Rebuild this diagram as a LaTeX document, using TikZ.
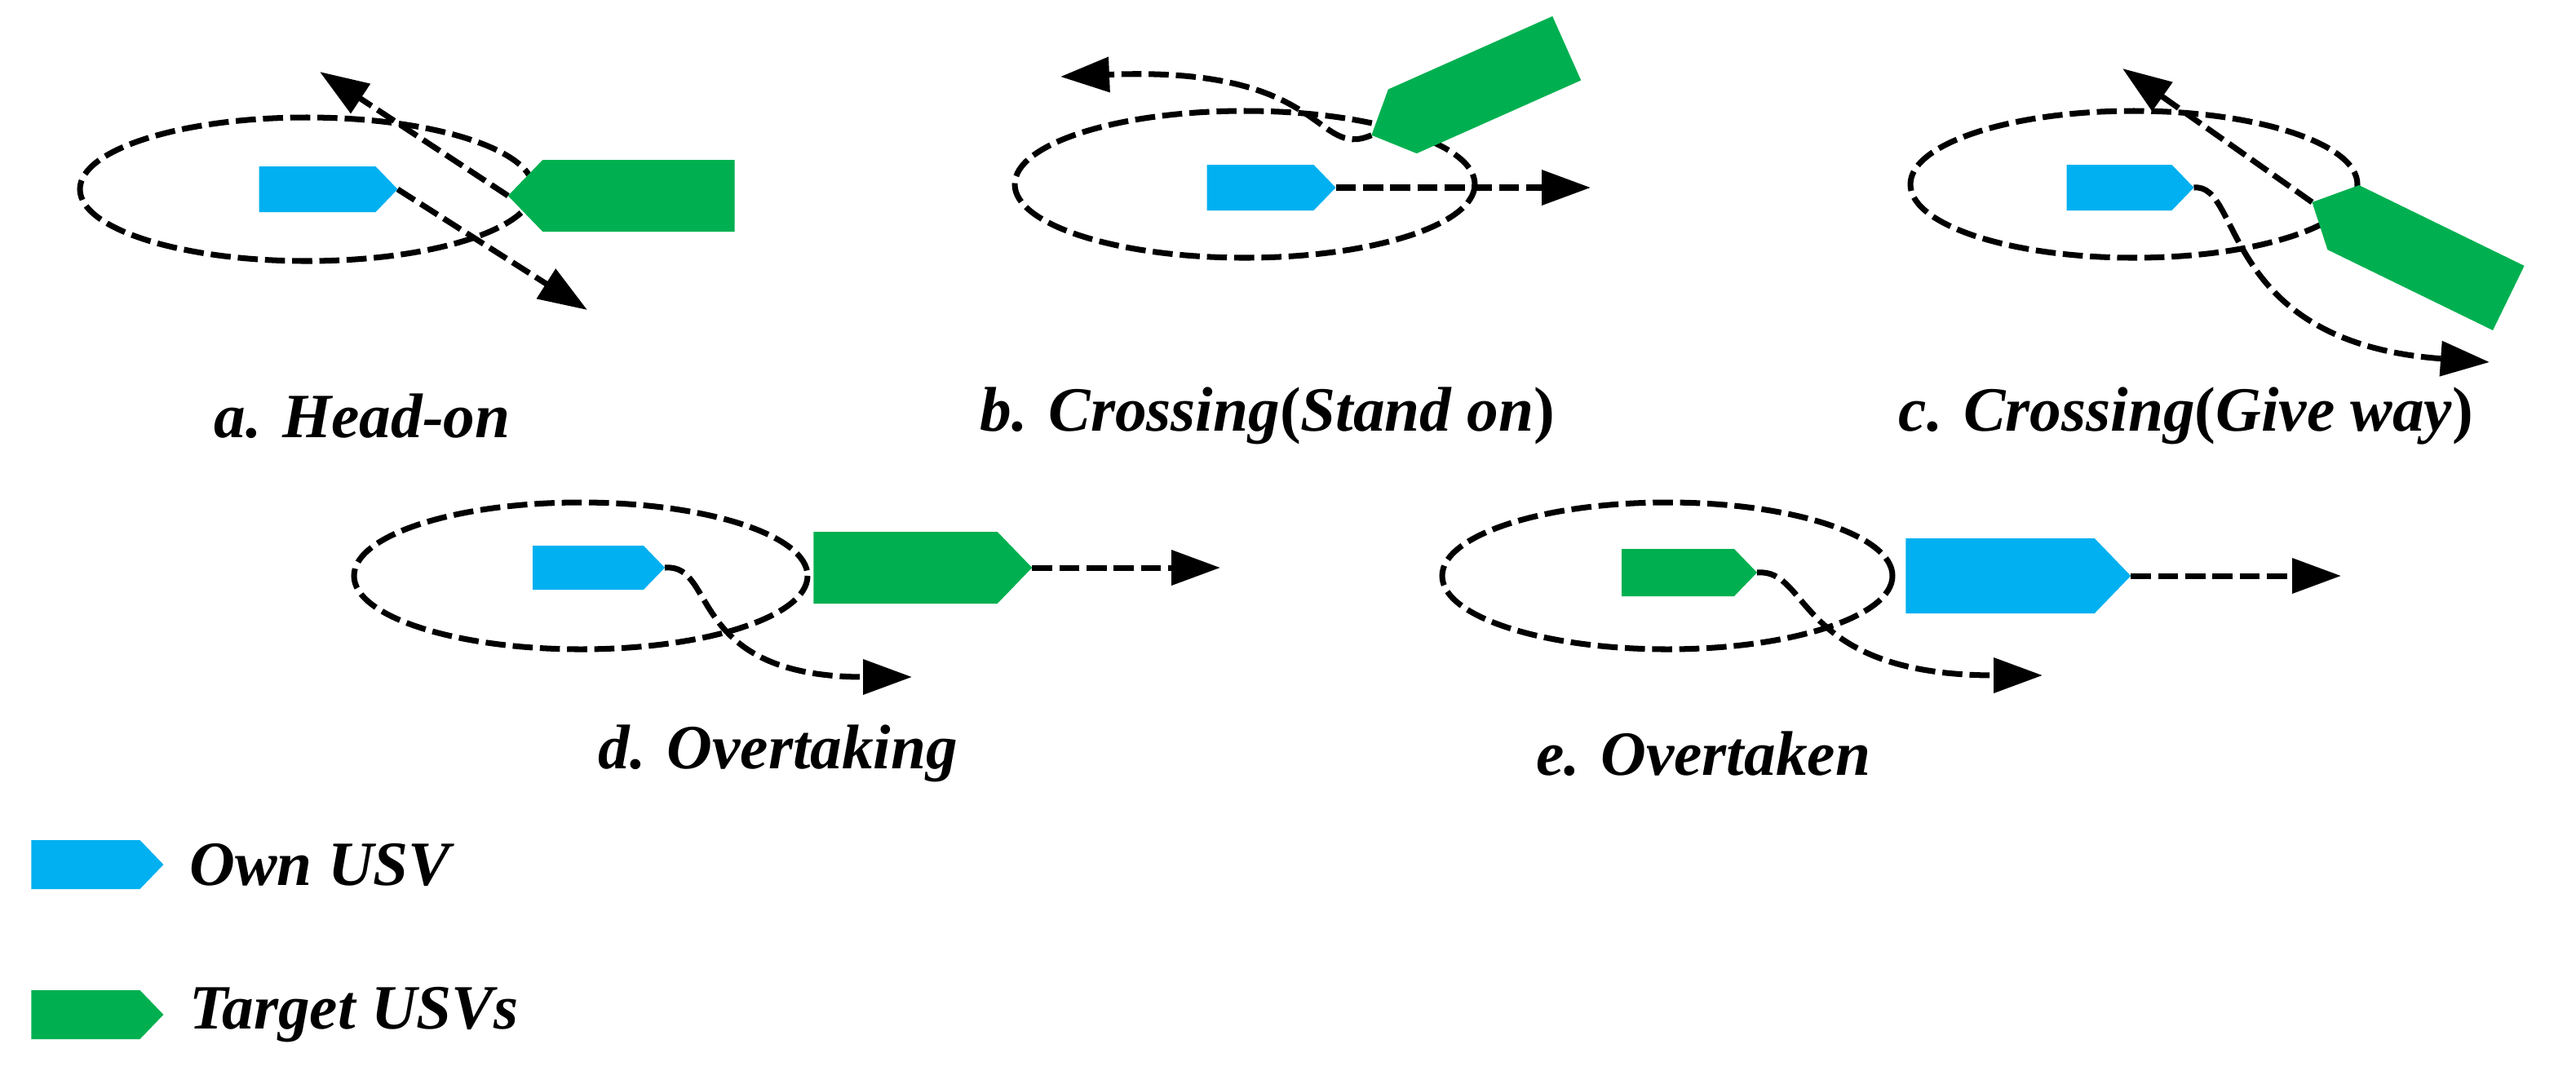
\documentclass[tikz,border=0pt]{standalone}
\usepackage{fontspec}
\setmainfont{Liberation Serif}
\usetikzlibrary{shapes.symbols,arrows.meta}

\begin{document}
\begin{tikzpicture}[x=0.02cm,y=-0.02cm,
  ship/.style={signal,signal pointer angle=92,inner sep=0pt,outer sep=0pt},
  own/.style={ship,fill={rgb,255:red,0;green,176;blue,240}},
  target/.style={ship,fill={rgb,255:red,0;green,176;blue,80}},
  zone/.style={draw,line width=2pt,dash pattern=on 7pt off 2.5pt},
  track/.style={line width=2pt,dash pattern=on 7pt off 2.5pt,
    -{Triangle[length=0.6cm,width=0.42cm]}},
  lbl/.style={font=\fontsize{22}{26}\selectfont\bfseries\itshape}]
  \useasboundingbox (0,0) rectangle (1579,658.5);

  % a. Head-on
  \draw[zone] (188,116) ellipse [x radius=139,y radius=44];
  \node[own,signal to=east,minimum width=1.7cm,minimum height=0.56cm] (a-own) at (194.5,116) {};
  \node[target,signal to=west,minimum width=2.78cm,minimum height=0.88cm] (a-tgt) at (391.5,120) {};
  \coordinate (a-up) at (196,44);
  \coordinate (a-dn) at (360,190);
  \draw[track] (a-tgt.west) -- (a-up);
  \draw[track] (a-own.east) -- (a-dn);
  \node[lbl] (a-lbl) at (222,255) {a. Head-on};

  % b. Crossing (Stand on)
  \draw[zone] (763,113) ellipse [x radius=141,y radius=45];
  \node[own,signal to=east,minimum width=1.58cm,minimum height=0.56cm] (b-own) at (772.5,115) {};
  \node[target,signal to=west,minimum width=2.62cm,minimum height=0.86cm,rotate=24] (b-tgt) at (910,52) {};
  \coordinate (b-rt) at (975,115);
  \coordinate (b-lt) at (650,47);
  \draw[track] (b-own.east) -- (b-rt);
  \draw[track] (b-tgt.west) .. controls (805,98) and (815,40) .. (b-lt);
  \node[lbl] (b-lbl) at (777,255) {b. Crossing\textup{(}Stand on\textup{)}};

  % c. Crossing (Give way)
  \draw[zone] (1308,113) ellipse [x radius=137,y radius=45];
  \node[own,signal to=east,minimum width=1.56cm,minimum height=0.56cm] (c-own) at (1299,115) {};
  \node[target,signal to=west,minimum width=2.68cm,minimum height=0.88cm,rotate=-26] (c-tgt) at (1487,158) {};
  \coordinate (c-up) at (1301,42);
  \coordinate (c-dn) at (1526,222);
  \draw[track] (c-tgt.west) -- (c-up);
  \draw[track] (c-own.east) .. controls (1375,112) and (1360,210) .. (c-dn);
  \node[lbl] (c-lbl) at (1340,255) {c. Crossing\textup{(}Give way\textup{)}};

  % d. Overtaking
  \draw[zone] (356,353) ellipse [x radius=139,y radius=45];
  \node[own,signal to=east,minimum width=1.62cm,minimum height=0.54cm] (d-own) at (360.5,348) {};
  \node[target,signal to=east,minimum width=2.68cm,minimum height=0.88cm] (d-tgt) at (555,348) {};
  \coordinate (d-rt) at (748,348);
  \coordinate (d-dn) at (559,415);
  \draw[track] (d-tgt.east) -- (d-rt);
  \draw[track] (d-own.east) .. controls (440,345) and (420,415) .. (d-dn);
  \node[lbl] (d-lbl) at (477,462) {d. Overtaking};

  % e. Overtaken
  \draw[zone] (1022,353) ellipse [x radius=138,y radius=45];
  \node[target,signal to=east,minimum width=1.66cm,minimum height=0.58cm] (e-own) at (1028.5,351) {};
  \node[own,signal to=east,minimum width=2.76cm,minimum height=0.92cm] (e-tgt) at (1226,353) {};
  \coordinate (e-rt) at (1435,353);
  \coordinate (e-dn) at (1252,414);
  \draw[track] (e-tgt.east) -- (e-rt);
  \draw[track] (e-own.east) .. controls (1110,348) and (1100,414) .. (e-dn);
  \node[lbl] (e-lbl) at (1044,462) {e. Overtaken};

  % legend
  \node[own,signal to=east,minimum width=1.62cm,minimum height=0.6cm] (leg-own) at (52.5,530) {};
  \node[lbl,anchor=west] (leg-own-t) at (110,530) {Own USV};
  \node[target,signal to=east,minimum width=1.62cm,minimum height=0.6cm] (leg-tgt) at (52.5,622) {};
  \node[lbl,anchor=west] (leg-tgt-t) at (110,622) {Target USVs};
\end{tikzpicture}
\end{document}
